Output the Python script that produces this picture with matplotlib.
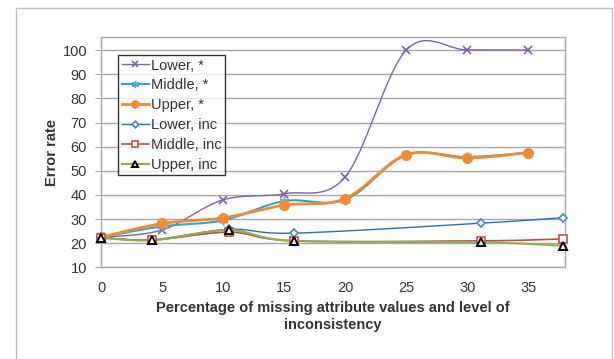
import numpy as np
import matplotlib
matplotlib.use("Agg")
import matplotlib.pyplot as plt
from matplotlib.lines import Line2D
from matplotlib.patches import Rectangle

plt.rcParams["font.family"] = ["Liberation Sans", "DejaVu Sans"]

# data
x_star = [0, 5, 10, 15, 20, 25, 30, 35]
lower_star = [22.5, 25.5, 38, 40.5, 47.5, 100, 100, 100]
middle_star = [22.5, 27, 29.5, 37.5, 38, 56.5, 55.7, 57.5]
upper_star = [22.5, 28.2, 30.5, 35.8, 38.5, 56.7, 55.3, 57.5]

x_inc = [0, 4.2, 10.5, 15.8, 31.1, 37.8]
lower_inc = [22.5, 21.5, 25.8, 24.2, 28.3, 30.6]
middle_inc = [22.3, 21.3, 24.6, 21.0, 21.0, 21.8]
upper_inc = [22.3, 21.3, 25.4, 21.0, 20.4, 19.0]

labels = ["Lower, *", "Middle, *", "Upper, *", "Lower, inc", "Middle, inc", "Upper, inc"]


def smooth(x, y, n=30):
    # excel-like smoothed line (catmull-rom as bezier)
    pts = np.column_stack([x, y]).astype(float)
    out = []
    t = np.linspace(0, 1, n)[:, None]
    for i in range(len(pts) - 1):
        p0 = pts[i - 1] if i > 0 else pts[i]
        p1 = pts[i]
        p2 = pts[i + 1]
        p3 = pts[i + 2] if i + 2 < len(pts) else pts[i + 1]
        c1 = p1 + (p2 - p0) / 6
        c2 = p2 - (p3 - p1) / 6
        seg = (1 - t) ** 3 * p1 + 3 * (1 - t) ** 2 * t * c1 + 3 * (1 - t) * t ** 2 * c2 + t ** 3 * p2
        out.append(seg if i == 0 else seg[1:])
    return np.vstack(out)


fig = plt.figure(figsize=(6.14, 3.59), dpi=100)
ax = fig.add_axes([0.1645, 0.255, 0.7557, 0.642])

# outer chart border
fig.patches.append(Rectangle((16 / 614, -0.02), 596 / 614, 1.02 - 8 / 359, transform=fig.transFigure,
                             fill=False, edgecolor="#bfbfbf", linewidth=1))

styles = [
    dict(color="#7e62a6", lw=1.0, marker="x", ms=6, mfc="none", mec="#8064a2", mew=1.2),
    dict(color="#31a6c0", lw=1.5, marker=(6, 2, 0), ms=7, mfc="none", mec="#4bacc6", mew=1.0),
    dict(color="#ef8a34", lw=2.0, marker="o", ms=7, mfc="#f08c36", mec="#f08c36", mew=1.0),
    dict(color="#2f6db3", lw=1.0, marker="D", ms=4.5, mfc="white", mec="#4f81bd", mew=1.2),
    dict(color="#be4b48", lw=1.2, marker="s", ms=6, mfc="white", mec="#c0504d", mew=1.2),
    dict(color="#8db04a", lw=1.5, marker="^", ms=6, mfc="white", mec="black", mew=1.4),
]
series = [
    (x_star, lower_star), (x_star, middle_star), (x_star, upper_star),
    (x_inc, lower_inc), (x_inc, middle_inc), (x_inc, upper_inc),
]

handles = []
for (xs, ys), st, lab in zip(series, styles, labels):
    c = smooth(xs, ys)
    ax.plot(c[:, 0], c[:, 1], color=st["color"], lw=st["lw"], zorder=3)
    ax.plot(xs, ys, linestyle="none", marker=st["marker"], ms=st["ms"], mfc=st["mfc"],
            mec=st["mec"], mew=st["mew"], zorder=4, clip_on=False)
    handles.append(Line2D([], [], color=st["color"], lw=st["lw"], marker=st["marker"], ms=st["ms"] * 0.75,
                          mfc=st["mfc"], mec=st["mec"], mew=st["mew"], label=lab))

ax.set_xlim(0, 38)
ax.set_ylim(10, 105.4)
ax.set_xticks(range(0, 40, 5))
ax.set_yticks(range(10, 110, 10))
ax.yaxis.grid(True, color="#a6a6a6", lw=1)
ax.set_axisbelow(True)
for s in ax.spines.values():
    s.set_color("#a6a6a6")
    s.set_linewidth(1)
ax.tick_params(axis="x", length=0, pad=10, labelsize=10.5, colors="#333333")
ax.tick_params(axis="y", length=4, pad=6, color="#a6a6a6", labelsize=10.5, labelcolor="#333333")

ax.set_xlabel("Percentage of missing attribute values and level of\ninconsistency",
              fontsize=10.5, fontweight="bold", color="#333333", linespacing=1.3)
ax.xaxis.set_label_coords(0.5, -0.145)
ax.set_ylabel("Error rate", fontsize=10.5, fontweight="bold", color="#333333")
ax.yaxis.set_label_coords(-0.106, 0.5)
ax.yaxis.label.set_va("center")

leg = ax.legend(handles=handles, loc="upper left", bbox_to_anchor=(0.0366, 0.922), borderaxespad=0,
                fontsize=10.5, frameon=True, fancybox=False, edgecolor="black", handlelength=1.9,
                handletextpad=0.1, labelspacing=0.4, borderpad=0.25)
leg.get_frame().set_linewidth(1)
for t in leg.get_texts():
    t.set_color("#333333")

fig.savefig("out.png", dpi=100)
